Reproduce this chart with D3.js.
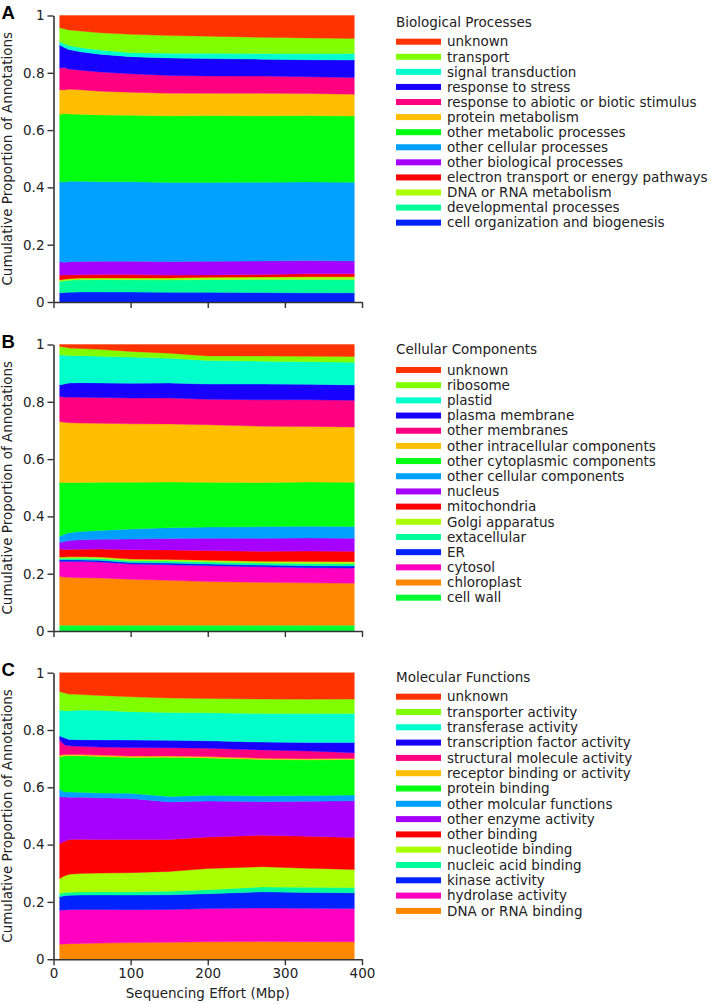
<!DOCTYPE html>
<html>
<head>
<meta charset="utf-8">
<title>annotations</title>
<script src="https://cdn.jsdelivr.net/npm/d3@7"></script>
<style>
  body { margin: 0; background: #fff; }
  text { font-family: "DejaVu Sans", sans-serif; }
</style>
</head>
<body>
<svg width="711" height="1004" id="mainsvg"></svg>
<script>
  // sequencing effort (Mbp) where shares were read
  const effort = [8, 14, 20, 35, 60, 100, 150, 200, 270, 330, 390];

  // colours by legend position (top to bottom)
  const palette = ["#ff3300", "#80ff00", "#00ffcc", "#1800ff", "#ff0080", "#ffbf00",
    "#00ff10", "#00a0ff", "#a600ff", "#ff0000", "#aaff00", "#00ff99",
    "#0022ff", "#ff00c0", "#ff8800", "#00ff33"];

  // A - biological processes (% of annotations)
  const bioLabels = ["unknown", "transport", "signal transduction", "response to stress",
    "response to abiotic or biotic stimulus", "protein metabolism", "other metabolic processes",
    "other cellular processes", "other biological processes", "electron transport or energy pathways",
    "DNA or RNA metabolism", "developmental processes", "cell organization and biogenesis"];
  const bioValues = [
    [4.3, 4.6, 5.0, 5.4, 6.0, 6.6, 7.0, 7.2, 7.6, 7.8, 8.0],
    [4.9, 5.2, 5.4, 5.7, 6.0, 6.4, 6.2, 6.0, 5.6, 5.4, 5.2],
    [1.1, 1.3, 1.4, 1.5, 1.5, 1.4, 1.6, 1.8, 2.0, 2.2, 2.3],
    [8.1, 7.0, 6.8, 6.4, 6.2, 6.0, 6.1, 6.1, 5.9, 5.9, 6.1],
    [7.6, 7.8, 7.0, 6.8, 6.7, 6.5, 6.2, 6.0, 6.0, 5.8, 5.8],
    [8.7, 8.2, 8.6, 8.5, 8.3, 8.0, 7.9, 7.8, 7.8, 7.7, 7.6],
    [23.5, 23.8, 23.4, 23.3, 23.3, 23.3, 23.3, 23.3, 23.2, 23.1, 23.1],
    [28.1, 27.9, 28.0, 27.8, 27.8, 27.8, 27.6, 27.5, 27.4, 27.4, 27.4],
    [4.7, 4.4, 4.6, 4.6, 4.6, 4.7, 4.7, 4.8, 4.7, 4.6, 4.5],
    [1.7, 1.5, 1.3, 1.2, 1.2, 1.2, 1.0, 0.8, 0.9, 1.0, 1.0],
    [0.5, 0.5, 0.5, 0.6, 0.6, 0.6, 0.7, 0.8, 0.9, 1.0, 1.0],
    [4.0, 4.1, 4.2, 4.2, 4.3, 4.3, 4.3, 4.4, 4.5, 4.6, 4.6],
    [3.2, 3.3, 3.4, 3.5, 3.5, 3.5, 3.4, 3.4, 3.3, 3.2, 3.2]
  ];

  // B - cellular components
  const cellLabels = ["unknown", "ribosome", "plastid", "plasma membrane", "other membranes",
    "other intracellular components", "other cytoplasmic components", "other cellular components",
    "nucleus", "mitochondria", "Golgi apparatus", "extacellular", "ER", "cytosol", "chloroplast", "cell wall"];
  const cellValues = [
    [0.7, 0.9, 1.2, 1.4, 1.7, 2.4, 3.0, 4.0, 4.0, 4.1, 4.2],
    [2.9, 2.8, 2.6, 2.5, 2.4, 2.0, 1.8, 1.6, 1.8, 1.9, 2.0],
    [10.5, 10.0, 9.6, 9.4, 9.3, 9.1, 8.6, 8.2, 8.0, 7.9, 7.9],
    [4.0, 4.6, 4.9, 5.1, 5.1, 5.2, 5.2, 5.3, 5.5, 5.4, 5.4],
    [8.8, 8.7, 8.9, 9.0, 9.0, 9.0, 9.0, 8.9, 9.2, 9.3, 9.3],
    [21.2, 21.0, 20.8, 20.7, 20.6, 20.4, 20.2, 20.1, 19.6, 19.4, 19.3],
    [18.9, 18.0, 17.5, 17.1, 16.8, 16.3, 15.9, 15.6, 15.4, 15.4, 15.4],
    [2.1, 2.5, 2.7, 2.9, 3.1, 3.5, 3.7, 3.9, 4.1, 4.1, 4.1],
    [2.3, 2.8, 3.1, 3.3, 3.4, 3.7, 4.0, 4.3, 4.5, 4.6, 4.6],
    [2.8, 2.6, 2.6, 2.6, 2.8, 3.3, 3.3, 3.4, 3.5, 3.6, 3.6],
    [0.4, 0.4, 0.5, 0.5, 0.5, 0.6, 0.6, 0.6, 0.6, 0.7, 0.7],
    [0.5, 0.5, 0.5, 0.6, 0.6, 0.6, 0.7, 0.7, 0.7, 0.8, 0.8],
    [0.6, 0.6, 0.6, 0.6, 0.6, 0.5, 0.6, 0.6, 0.6, 0.7, 0.7],
    [5.2, 5.4, 5.5, 5.6, 5.6, 5.3, 5.4, 5.5, 5.4, 5.3, 5.3],
    [17.1, 16.8, 16.7, 16.6, 16.5, 16.1, 15.6, 15.3, 15.0, 14.8, 14.7],
    [2.0, 2.0, 2.0, 2.0, 2.0, 2.0, 2.0, 2.0, 2.0, 2.0, 2.0]
  ];

  // C - molecular functions
  const molLabels = ["unknown", "transporter activity", "transferase activity", "transcription factor activity",
    "structural molecule activity", "receptor binding or activity", "protein binding", "other molcular functions",
    "other enzyme activity", "other binding", "nucleotide binding", "nucleic acid binding", "kinase activity",
    "hydrolase activity", "DNA or RNA binding"];
  const molValues = [
    [6.6, 7.0, 7.4, 7.6, 7.9, 8.4, 8.9, 9.0, 9.1, 9.2, 9.2],
    [6.4, 6.2, 5.8, 5.4, 5.2, 5.2, 5.1, 5.0, 5.0, 5.0, 5.0],
    [9.1, 9.4, 10.0, 10.3, 10.3, 9.9, 9.8, 9.8, 9.9, 10.1, 10.2],
    [1.4, 2.4, 2.2, 2.3, 2.5, 2.6, 2.6, 2.6, 2.7, 2.9, 3.5],
    [5.3, 3.4, 3.0, 2.8, 2.8, 3.0, 2.9, 2.9, 2.9, 2.7, 2.0],
    [0.5, 0.5, 0.5, 0.5, 0.5, 0.5, 0.5, 0.5, 0.4, 0.4, 0.4],
    [11.4, 12.5, 12.6, 12.7, 12.7, 12.5, 13.8, 13.1, 12.6, 12.4, 12.4],
    [2.6, 1.7, 1.8, 1.7, 1.7, 1.8, 1.9, 2.0, 2.0, 2.0, 2.0],
    [16.3, 15.5, 14.7, 14.6, 14.5, 14.3, 13.2, 12.6, 11.6, 12.2, 12.8],
    [12.2, 11.9, 12.1, 11.9, 11.7, 11.6, 11.3, 11.0, 10.9, 11.1, 11.2],
    [5.3, 5.8, 6.2, 6.4, 6.5, 6.7, 7.0, 7.4, 7.0, 6.6, 6.3],
    [1.1, 1.1, 1.1, 1.1, 1.1, 1.1, 1.2, 1.4, 1.7, 1.8, 1.8],
    [4.7, 4.9, 5.0, 5.0, 5.1, 5.1, 5.2, 5.2, 5.6, 5.5, 5.5],
    [11.9, 11.8, 11.8, 11.8, 11.7, 11.5, 11.5, 11.6, 11.6, 11.6, 11.6],
    [5.2, 5.3, 5.4, 5.5, 5.6, 5.8, 6.0, 6.1, 6.1, 6.1, 6.1]
  ];

  const xTicks = [0, 100, 200, 300, 400];
  const yTicks = [0, 0.2, 0.4, 0.6, 0.8, 1];

  const panels = [
    { letter: "A", title: "Biological Processes", labels: bioLabels, values: bioValues,
      top: 15.5, titleY: 26.5, rowY: 41.7, rowStep: 15.08, xLabels: false },
    { letter: "B", title: "Cellular Components", labels: cellLabels, values: cellValues,
      top: 344.5, titleY: 353.8, rowY: 370, rowStep: 15.18, xLabels: false },
    { letter: "C", title: "Molecular Functions", labels: molLabels, values: molValues,
      top: 672.7, titleY: 681.5, rowY: 696.7, rowStep: 15.3, xLabels: true }
  ];

  const svg = d3.select("#mainsvg");
  const plotH = 286.5;
  const x = d3.scaleLinear().domain([0, 400]).range([53.5, 362]);
  const fontSize = "13.5px";

  panels.forEach(p => {
    const y = d3.scaleLinear().domain([0, 1]).range([p.top + plotH, p.top]);
    const rows = effort.map((e, i) => {
      const r = { effort: e };
      p.labels.forEach((l, k) => { r[k] = p.values[k][i]; });
      return r;
    });
    // last legend entry sits at the bottom of the stack
    const keys = d3.range(p.labels.length).reverse();
    const series = d3.stack().keys(keys).offset(d3.stackOffsetExpand)(rows);

    const area = d3.area()
      .x(d => x(d.data.effort))
      .y0(d => y(d[0]))
      .y1(d => y(d[1]));

    const g = svg.append("g");
    g.selectAll("path.band").data(series).enter().append("path")
      .attr("class", "band")
      .attr("d", area)
      .attr("fill", d => palette[d.key])
      .attr("stroke", d => palette[d.key])
      .attr("stroke-width", 0.4);

    // axes
    const yAxis = g.append("g")
      .attr("transform", `translate(${x(0)},0)`)
      .call(d3.axisLeft(y).tickValues(yTicks).tickFormat(d3.format("~g")).tickSize(6).tickSizeOuter(0));
    const xAxis = g.append("g")
      .attr("transform", `translate(0,${p.top + plotH})`)
      .call(d3.axisBottom(x).tickValues(xTicks).tickSize(6).tickSizeOuter(0)
        .tickFormat(p.xLabels ? d3.format("d") : ""));
    [yAxis, xAxis].forEach(a => {
      a.select(".domain").attr("stroke", "#333").attr("stroke-width", 1.6);
      a.selectAll(".tick line").attr("stroke", "#333").attr("stroke-width", 1.4);
      a.selectAll(".tick text").attr("fill", "#222").style("font-size", fontSize)
        .style("font-family", "'DejaVu Sans', sans-serif");
    });

    g.append("text")
      .attr("transform", `translate(12,${p.top + plotH / 2}) rotate(-90)`)
      .attr("text-anchor", "middle")
      .attr("fill", "#222")
      .style("font-size", fontSize)
      .text("Cumulative Proportion of Annotations");

    g.append("text")
      .attr("x", 1.5).attr("y", p.top + 3)
      .style("font-family", "'Liberation Sans', Arial, sans-serif")
      .style("font-weight", "bold")
      .style("font-size", "18.5px")
      .text(p.letter);

    // legend
    const lg = g.append("g");
    lg.append("text")
      .attr("x", 396).attr("y", p.titleY)
      .attr("fill", "#222")
      .style("font-size", fontSize)
      .text(p.title);
    const item = lg.selectAll("g.item").data(p.labels).enter().append("g")
      .attr("class", "item")
      .attr("transform", (d, i) => `translate(396,${p.rowY + i * p.rowStep})`);
    item.append("rect")
      .attr("x", 0).attr("y", -3)
      .attr("width", 45).attr("height", 6)
      .attr("fill", (d, i) => palette[i]);
    item.append("text")
      .attr("x", 51).attr("dy", "0.35em")
      .attr("fill", "#222")
      .style("font-size", fontSize)
      .text(d => d);
  });

  svg.append("text")
    .attr("x", (x(0) + x(400)) / 2).attr("y", 998)
    .attr("text-anchor", "middle")
    .attr("fill", "#222")
    .style("font-size", fontSize)
    .text("Sequencing Effort (Mbp)");
</script>
</body>
</html>
